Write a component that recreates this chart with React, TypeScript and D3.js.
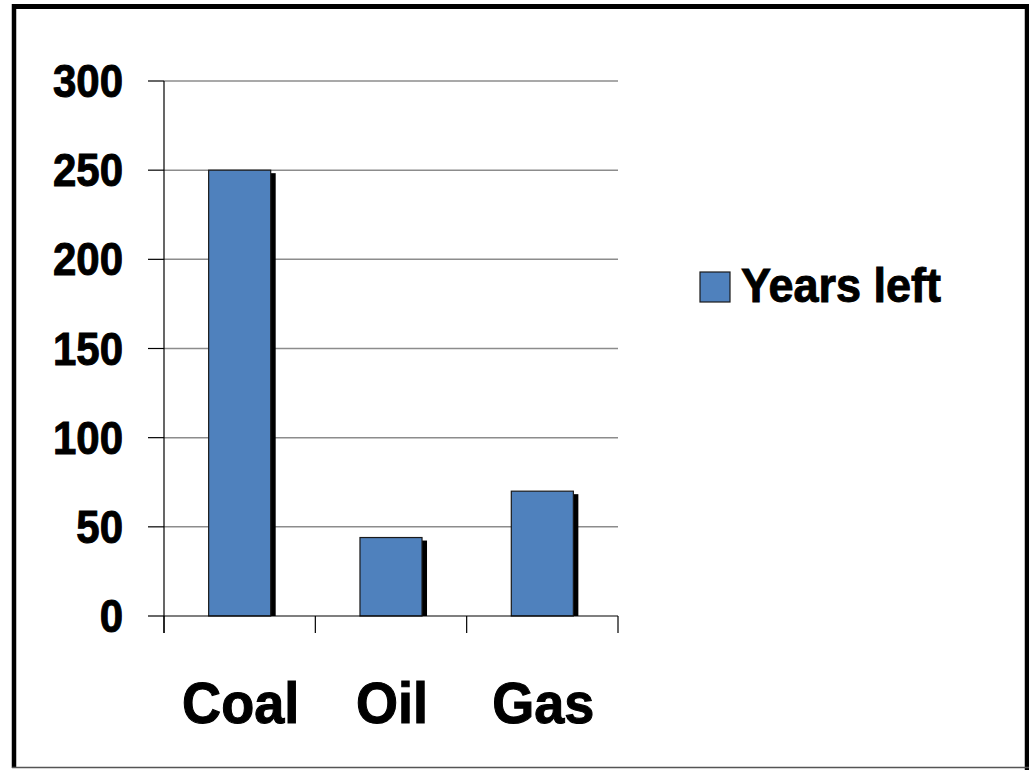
import React from 'react';
import * as d3 from 'd3';

const categories = ['Coal', 'Oil', 'Gas'];
const yearsLeft = [250, 44, 70];
const yTicks = [0, 50, 100, 150, 200, 250, 300];
const seriesName = 'Years left';

const W = 1029;
const H = 770;
const FONT = 'Liberation Sans, Arial, sans-serif';
const BLUE = '#4f81bd';

export default function App() {
  const x = d3.scaleBand<string>()
    .domain(categories)
    .range([164, 618])
    .paddingInner(0.59)
    .paddingOuter(0.295);

  const y = d3.scaleLinear().domain([0, 300]).range([616, 81]);

  // category boundaries for the x tick marks
  const xTickPos = d3.range(categories.length + 1).map(i => 164 + i * (454 / categories.length));

  return (
    <svg width={W} height={H} style={{ position: 'absolute', left: 0, top: 0 }}>
      <rect x={0} y={0} width={W} height={H} fill="#fff" />

      {/* outer frame */}
      <line x1={14} y1={4} x2={14} y2={768} stroke="#000" strokeWidth={4.5} />
      <line x1={12} y1={6.5} x2={1029} y2={6.5} stroke="#000" strokeWidth={5} />
      <line x1={1027} y1={4} x2={1027} y2={770} stroke="#000" strokeWidth={4.5} />
      <line x1={12} y1={767.5} x2={1029} y2={767.5} stroke="#555" strokeWidth={1.5} />

      {/* gridlines */}
      {yTicks.filter(t => t > 0).map(t => (
        <line key={'g' + t} x1={164} x2={618} y1={y(t)} y2={y(t)} stroke="#8c8c8c" strokeWidth={1.5} />
      ))}

      {/* bars with shadow */}
      {categories.map((c, i) => (
        <g key={c}>
          <rect x={x(c)! + 5} y={y(yearsLeft[i]) + 3} width={x.bandwidth()} height={y(0) - y(yearsLeft[i]) - 3} fill="#000" />
          <rect x={x(c)!} y={y(yearsLeft[i])} width={x.bandwidth()} height={y(0) - y(yearsLeft[i])} fill={BLUE} stroke="#1a1a1a" strokeWidth={1.2} />
        </g>
      ))}

      {/* y axis */}
      <line x1={164} x2={164} y1={y(300)} y2={y(0) + 17} stroke="#000" strokeWidth={1.2} />
      {yTicks.map(t => (
        <g key={'t' + t}>
          <line x1={148} x2={164} y1={y(t)} y2={y(t)} stroke="#000" strokeWidth={1.2} />
          <text
            transform={`translate(123,${y(t) + 16}) scale(1,1.09)`}
            textAnchor="end"
            fontFamily={FONT}
            fontWeight="bold"
            fontSize={42}
            fill="#000"
            stroke="#000"
            strokeWidth={0.9}
          >{t}</text>
        </g>
      ))}

      {/* x axis */}
      <line x1={164} x2={618} y1={y(0)} y2={y(0)} stroke="#000" strokeWidth={1.2} />
      {xTickPos.map((p, i) => (
        <line key={'xt' + i} x1={p} x2={p} y1={y(0)} y2={y(0) + 17} stroke="#000" strokeWidth={1.2} />
      ))}
      {categories.map(c => (
        <text
          key={'l' + c}
          transform={`translate(${x(c)! + x.bandwidth() / 2 + 1},${723}) scale(1.02,1.09)`}
          textAnchor="middle"
          fontFamily={FONT}
          fontWeight="bold"
          fontSize={53}
          fill="#000"
          stroke="#000"
          strokeWidth={1}
        >{c}</text>
      ))}

      {/* legend */}
      <rect x={700} y={272} width={30} height={30} fill={BLUE} stroke="#1a1a1a" strokeWidth={1.2} />
      <text
        transform={`translate(741,302) scale(1,1.05)`}
        fontFamily={FONT}
        fontWeight="bold"
        fontSize={45}
        fill="#000"
        stroke="#000"
        strokeWidth={0.9}
      >{seriesName}</text>
    </svg>
  );
}
